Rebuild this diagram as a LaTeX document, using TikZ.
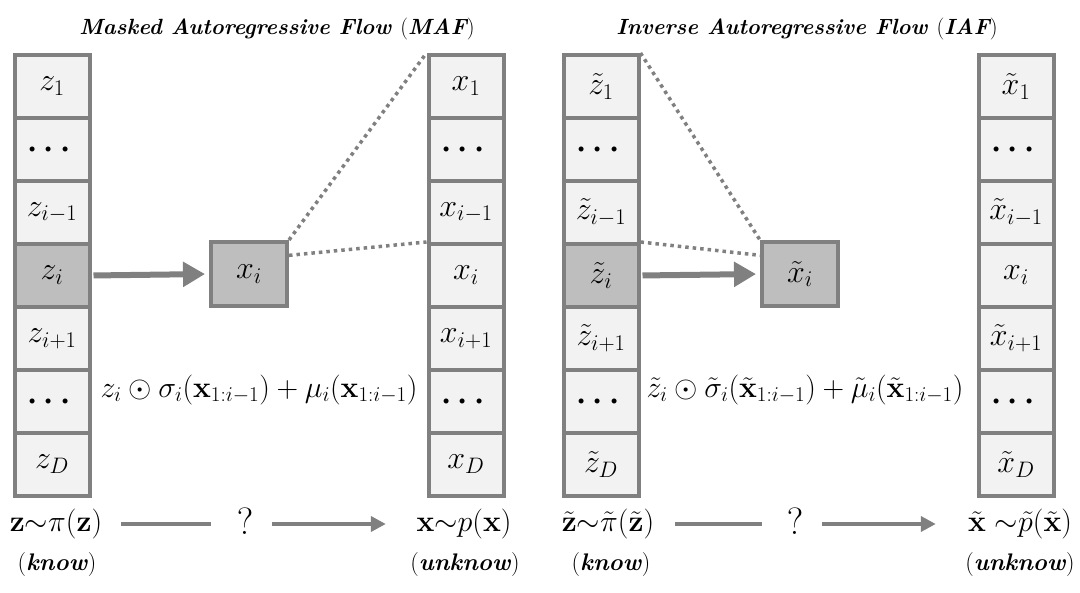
\RequirePackage{fix-cm}
\documentclass[tikz,border=0pt]{standalone}
\usepackage{amsmath,amssymb,bm}
\usetikzlibrary{arrows.meta}
\definecolor{bgray}{HTML}{808080}
\definecolor{lfill}{HTML}{F2F2F2}
\definecolor{dfill}{HTML}{BEBEBE}
\begin{document}
\begin{tikzpicture}[x=1pt,y=-1pt,
  cell/.style={draw=bgray, line width=4pt, fill=lfill, minimum width=75pt, minimum height=63pt, inner sep=0pt, font=\fontsize{32}{34}\selectfont},
  dcell/.style={cell, fill=dfill},
  outbox/.style={draw=bgray, line width=4pt, fill=dfill, minimum width=76pt, minimum height=64pt, inner sep=0pt, font=\fontsize{32}{34}\selectfont},
  bigarrow/.style={draw=bgray, line width=6pt, -{Triangle[length=22pt,width=24pt]}},
  dotline/.style={draw=bgray, line width=3.5pt, dash pattern=on 3.5pt off 4pt},
  thinline/.style={draw=bgray, line width=4pt},
  thinarrow/.style={draw=bgray, line width=4pt, -{Triangle[length=15pt,width=15pt]}},
  txt/.style={inner sep=0pt, font=\fontsize{30}{32}\selectfont},
  lbl/.style={inner sep=0pt, font=\fontsize{30}{32}\selectfont},
  qm/.style={inner sep=0pt, font=\fontsize{38}{40}\selectfont},
  ttl/.style={inner sep=0pt, font=\fontsize{22}{24}\selectfont\bfseries\itshape},
  sub/.style={inner sep=0pt, font=\fontsize{24}{26}\selectfont}
]
\useasboundingbox (0,0) rectangle (1080,593);

% titles
\node[ttl] (t1) at (277,29) {Masked Autoregressive Flow {\upshape\mdseries(}MAF{\upshape\mdseries)}};
\node[ttl] (t2) at (807,29) {Inverse Autoregressive Flow {\upshape\mdseries(}IAF{\upshape\mdseries)}};

% MAF left column
\node[cell]  (a1) at (52,86.5)  {$z_1$};
\node[cell]  (a2) at (52,149.5) {$\boldsymbol{\cdots}$};
\node[cell]  (a3) at (52,212.5) {$z_{i-1}$};
\node[dcell] (a4) at (52,275.5) {$z_i$};
\node[cell]  (a5) at (52,338.5) {$z_{i+1}$};
\node[cell]  (a6) at (52,401.5) {$\boldsymbol{\cdots}$};
\node[cell]  (a7) at (52,464.5) {$z_D$};

% MAF right column
\node[cell] (b1) at (466,86.5)  {$x_1$};
\node[cell] (b2) at (466,149.5) {$\boldsymbol{\cdots}$};
\node[cell] (b3) at (466,212.5) {$x_{i-1}$};
\node[cell] (b4) at (466,275.5) {$x_i$};
\node[cell] (b5) at (466,338.5) {$x_{i+1}$};
\node[cell] (b6) at (466,401.5) {$\boldsymbol{\cdots}$};
\node[cell] (b7) at (466,464.5) {$x_D$};

% IAF left column
\node[cell]  (c1) at (601,86.5)  {$\tilde{z}_1$};
\node[cell]  (c2) at (601,149.5) {$\boldsymbol{\cdots}$};
\node[cell]  (c3) at (601,212.5) {$\tilde{z}_{i-1}$};
\node[dcell] (c4) at (601,275.5) {$\tilde{z}_i$};
\node[cell]  (c5) at (601,338.5) {$\tilde{z}_{i+1}$};
\node[cell]  (c6) at (601,401.5) {$\boldsymbol{\cdots}$};
\node[cell]  (c7) at (601,464.5) {$\tilde{z}_D$};

% IAF right column
\node[cell] (d1) at (1016,86.5)  {$\tilde{x}_1$};
\node[cell] (d2) at (1016,149.5) {$\boldsymbol{\cdots}$};
\node[cell] (d3) at (1016,212.5) {$\tilde{x}_{i-1}$};
\node[cell] (d4) at (1016,275.5) {$x_i$};
\node[cell] (d5) at (1016,338.5) {$\tilde{x}_{i+1}$};
\node[cell] (d6) at (1016,401.5) {$\boldsymbol{\cdots}$};
\node[cell] (d7) at (1016,464.5) {$\tilde{x}_D$};

% middle boxes
\node[outbox] (xi)  at (249,274) {$x_i$};
\node[outbox] (xti) at (800,274) {$\tilde{x}_i$};

% arrows
\draw[bigarrow, shorten <=2pt, shorten >=4pt] (a4.east) -- (xi.west);
\draw[bigarrow, shorten <=2pt, shorten >=4pt] (c4.east) -- (xti.west);

% dotted lines
\draw[dotline] (xi.north east) -- (b1.north west);
\draw[dotline] (xi.25) -- (b4.north west);
\draw[dotline] (c1.north east) -- (xti.north west);
\draw[dotline] (c4.north east) -- (xti.155);

% formulas
\node[txt] (f1) at (259,390) {$z_i \odot \sigma_i(\mathbf{x}_{1:i-1}) + \mu_i(\mathbf{x}_{1:i-1})$};
\node[txt] (f2) at (805,390) {$\tilde{z}_i \odot \tilde{\sigma}_i(\tilde{\mathbf{x}}_{1:i-1}) + \tilde{\mu}_i(\tilde{\mathbf{x}}_{1:i-1})$};

% bottom MAF
\node[lbl] (zl) at (56,524) {$\mathbf{z}{\sim}\pi(\mathbf{z})$};
\node[sub] (zk) at (57,565) {(\textbf{\textit{know}})};
\node[qm] (q1) at (245,521) {$\mathrm{?}$};
\node[lbl] (xl) at (464,524) {$\mathbf{x}{\sim}p(\mathbf{x})$};
\node[sub] (xk) at (465,565) {(\textbf{\textit{unknow}})};
\draw[thinline, shorten <=18.5pt, shorten >=25.5pt] (zl.east) -- (zl.east -| q1.west);
\draw[thinarrow, shorten <=18.5pt, shorten >=30.5pt] (xl.west -| q1.east) -- (xl.west);

% bottom IAF
\node[lbl] (ztl) at (608,524) {$\tilde{\mathbf{z}}{\sim}\tilde{\pi}(\tilde{\mathbf{z}})$};
\node[sub] (ztk) at (611,565) {(\textbf{\textit{know}})};
\node[qm] (q2) at (795,521) {$\mathrm{?}$};
\node[lbl] (xtl) at (1020,524) {$\tilde{\mathbf{x}}\ {\sim}\tilde{p}(\tilde{\mathbf{x}})$};
\node[sub] (xtk) at (1020,565) {(\textbf{\textit{unknow}})};
\draw[thinline, shorten <=21pt, shorten >=24.5pt] (ztl.east) -- (ztl.east -| q2.west);
\draw[thinarrow, shorten <=18.5pt, shorten >=32pt] (xtl.west -| q2.east) -- (xtl.west);
\end{tikzpicture}
\end{document}
